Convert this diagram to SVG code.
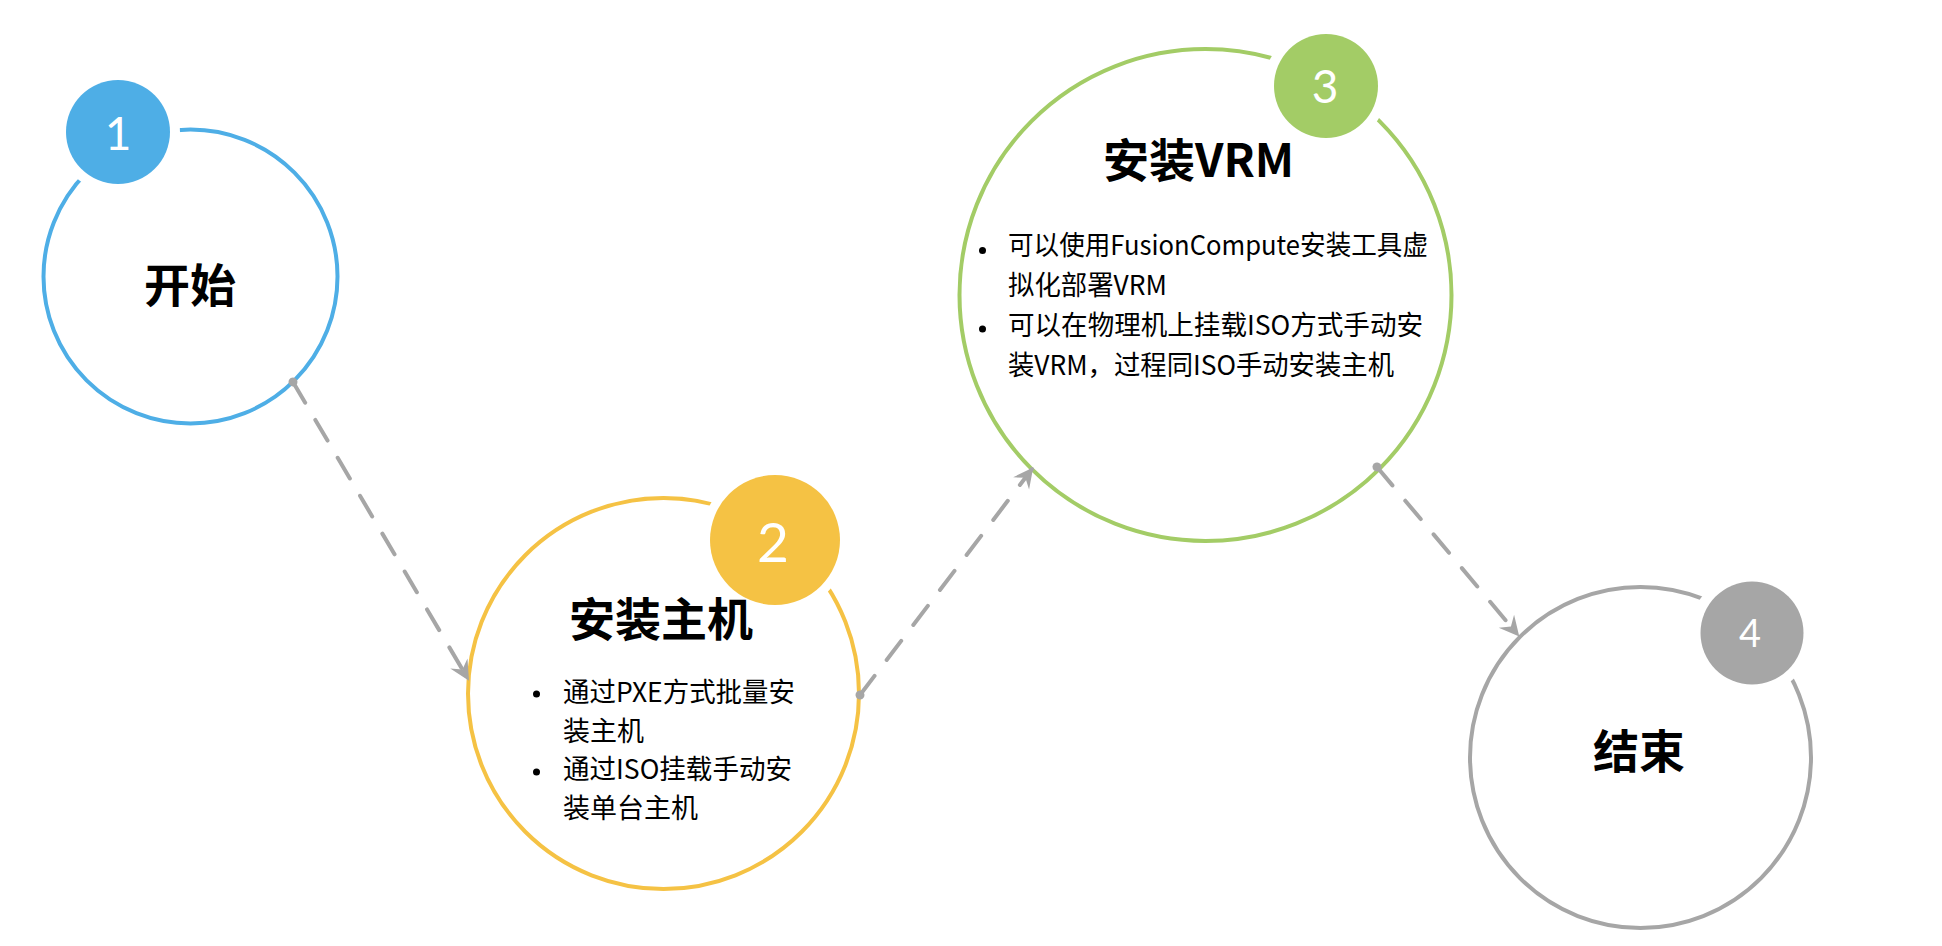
<svg xmlns="http://www.w3.org/2000/svg" width="1942" height="946" viewBox="0 0 1942 946">
  <style>
    .ring { fill: #ffffff; stroke-width: 4; }
    .halo { fill: #ffffff; }
    .num { font-family: Lato, "Open Sans", "Noto Sans", sans-serif; fill: #ffffff; text-anchor: middle; }
    .title { font-family: "Noto Sans CJK SC", "Noto Sans", sans-serif; font-weight: 700; font-size: 46px; fill: #000000; text-anchor: middle; }
    .item { font-family: "Noto Sans CJK SC", "Noto Sans", sans-serif; font-size: 27px; fill: #000000; }
    .dot { fill: #000000; }
    .link { fill: none; stroke: #a6a6a6; stroke-width: 4; stroke-linecap: round; stroke-dasharray: 24 20; }
    .blue { stroke: #4eaee6; }
    .yellow { stroke: #f5c244; }
    .green { stroke: #a3cc66; }
    .grey { stroke: #a6a6a6; }
  </style>
  <defs>
    <marker id="arrow" markerUnits="userSpaceOnUse" markerWidth="40" markerHeight="40" refX="0" refY="0" orient="auto" overflow="visible">
      <path d="M2,0 L-18,-10 L-11,0 L-18,10 Z" fill="#a6a6a6"/>
    </marker>
    <marker id="start" markerUnits="userSpaceOnUse" markerWidth="20" markerHeight="20" refX="0" refY="0" orient="auto" overflow="visible">
      <circle cx="0" cy="0" r="4.5" fill="#a6a6a6"/>
    </marker>
  </defs>

  <rect x="0" y="0" width="1942" height="946" fill="#ffffff"/>

  <!-- step 1 -->
  <g id="node-start">
    <circle class="ring blue" cx="190.5" cy="276.5" r="147"/>
    <circle class="halo" cx="118" cy="132" r="62"/>
    <circle cx="118" cy="132" r="52" fill="#4eaee6"/>
    <text class="num" x="118" y="150" font-size="46">1</text>
    <text class="title" x="190" y="302">开始</text>
  </g>

  <!-- step 2 -->
  <g id="node-install-host">
    <circle class="ring yellow" cx="663.5" cy="693.5" r="195.5"/>
    <circle class="halo" cx="775" cy="540" r="74"/>
    <circle cx="775" cy="540" r="65" fill="#f5c244"/>
    <text class="num" x="773" y="562" font-size="55">2</text>
    <text class="title" x="661" y="636">安装主机</text>
    <circle class="dot" cx="536.5" cy="694" r="3.5"/>
    <circle class="dot" cx="536.5" cy="772" r="3.5"/>
    <text class="item" x="563" y="702" textLength="232" lengthAdjust="spacingAndGlyphs">通过PXE方式批量安</text>
    <text class="item" x="563" y="741">装主机</text>
    <text class="item" x="563" y="779" textLength="229" lengthAdjust="spacingAndGlyphs">通过ISO挂载手动安</text>
    <text class="item" x="563" y="818">装单台主机</text>
  </g>

  <!-- step 3 -->
  <g id="node-install-vrm">
    <circle class="ring green" cx="1205.5" cy="295" r="246"/>
    <circle class="halo" cx="1326" cy="86" r="62"/>
    <circle cx="1326" cy="86" r="52" fill="#a3cc66"/>
    <text class="num" x="1325" y="103" font-size="46">3</text>
    <text class="title" x="1198.5" y="177">安装VRM</text>
    <circle class="dot" cx="982.5" cy="250.5" r="3.5"/>
    <circle class="dot" cx="982.5" cy="329" r="3.5"/>
    <text class="item" x="1008" y="255" textLength="420" lengthAdjust="spacingAndGlyphs">可以使用FusionCompute安装工具虚</text>
    <text class="item" x="1008" y="295" textLength="159" lengthAdjust="spacingAndGlyphs">拟化部署VRM</text>
    <text class="item" x="1008" y="335" textLength="415" lengthAdjust="spacingAndGlyphs">可以在物理机上挂载ISO方式手动安</text>
    <text class="item" x="1008" y="375" textLength="386" lengthAdjust="spacingAndGlyphs">装VRM，过程同ISO手动安装主机</text>
  </g>

  <!-- step 4 -->
  <g id="node-end">
    <circle class="ring grey" cx="1640.5" cy="757.5" r="170.5"/>
    <circle class="halo" cx="1752" cy="633" r="62"/>
    <circle cx="1752" cy="633" r="51.5" fill="#a6a6a6"/>
    <text class="num" x="1750" y="647" font-size="38">4</text>
    <text class="title" x="1639" y="768">结束</text>
  </g>

  <!-- dashed connectors between steps -->
  <g id="connectors">
    <path class="link" d="M293,382 L468,679" marker-start="url(#start)" marker-end="url(#arrow)"/>
    <path class="link" d="M860,695 L1032,469" marker-start="url(#start)" marker-end="url(#arrow)"/>
    <path class="link" d="M1377,467 L1518,635" marker-start="url(#start)" marker-end="url(#arrow)"/>
  </g>
</svg>
